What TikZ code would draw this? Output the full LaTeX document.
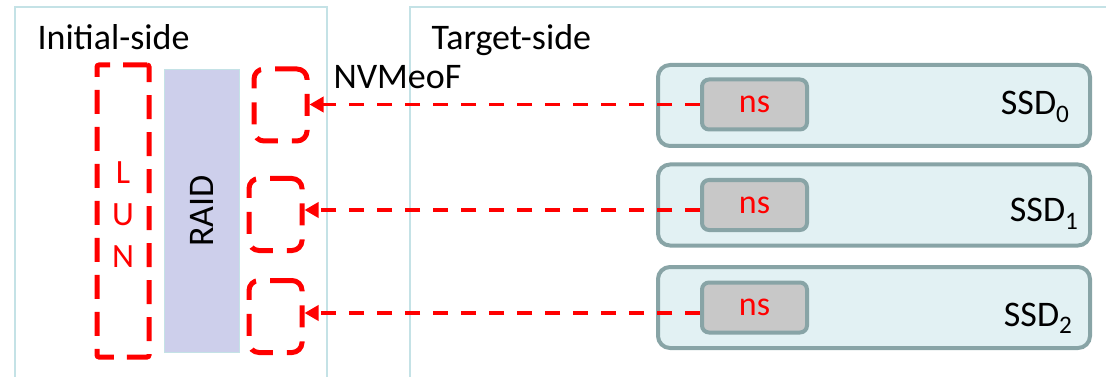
\documentclass[tikz,border=0pt]{standalone}
\usepackage{fontspec}
\setmainfont{Carlito}
\usetikzlibrary{arrows.meta}
\definecolor{frameblue}{RGB}{196,226,230}
\definecolor{raidfill}{RGB}{205,207,235}
\definecolor{ssdfill}{RGB}{226,241,243}
\definecolor{ssdline}{RGB}{136,164,166}
\definecolor{nsfill}{RGB}{200,200,200}
\definecolor{lunred}{RGB}{255,0,0}
\begin{document}
\begin{tikzpicture}[x=1pt,y=-1pt]
	\tikzset{frame/.style={draw=frameblue, line width=1.5pt}};
	\tikzset{bigtext/.style={font=\fontsize{36}{36}\selectfont}};
	\tikzset{lunbox/.style={draw=lunred, line width=5pt, dash pattern=on 24pt off 13pt, rounded corners=2pt, minimum width=52pt, minimum height=292pt, inner sep=0pt}};
	\tikzset{portbox/.style={draw=lunred, line width=5pt, dash pattern=on 22pt off 14pt, rounded corners=10pt, minimum width=53pt, minimum height=72pt, inner sep=0pt}};
	\tikzset{ssd/.style={draw=ssdline, fill=ssdfill, line width=4pt, rounded corners=12pt, minimum width=432pt, minimum height=81pt, inner sep=0pt}};
	\tikzset{ns/.style={draw=ssdline, fill=nsfill, line width=4pt, rounded corners=7pt, minimum width=105pt, minimum height=50pt, inner sep=0pt, text=lunred, font=\fontsize{34}{34}\selectfont}};
	\tikzset{link/.style={draw=lunred, line width=3.5pt, dash pattern=on 15pt off 13pt, -{Triangle[length=14pt,width=15pt]}}};
	\useasboundingbox (0,0) rectangle (1106,377);

	% frames
	\draw[frame] (15,380) -- (15,7) -- (327,7) -- (327,380);
	\draw[frame] (410,380) -- (410,7) -- (1110,7);
	\node[bigtext, anchor=base west] (init) at (34,50) {Initial-side};
	\node[bigtext, anchor=base west] (target) at (428,50) {Target-side};

	% initiator
	\node[lunbox] (lun) at (123,211) {};
	\node[text=lunred, align=center, font=\fontsize{34}{42}\selectfont] (luntxt) at (123,215) {L\\U\\N};
	\node[draw=frameblue, fill=raidfill, line width=1pt, minimum width=75pt, minimum height=282pt, inner sep=0pt] (raid) at (202,211) {};
	\node[bigtext, rotate=90] (raidtxt) at (raid.center) {RAID};
	\node[portbox] (port0) at (280.5,105) {};
	\node[portbox] (port1) at (275.5,214.5) {};
	\node[portbox] (port2) at (275.5,316.5) {};
	\node[bigtext, anchor=base west] (nvme) at (330,89) {NVMeoF};

	% target
	\node[ssd] (ssd0) at (874,105.5) {};
	\node[ssd] (ssd1) at (874,205) {};
	\node[ssd] (ssd2) at (874,307.5) {};
	\node[ns] (ns0) at (754.5,104.5) {ns};
	\node[ns] (ns1) at (754.5,205) {ns};
	\node[ns] (ns2) at (754.5,307.5) {ns};
	\node[bigtext, anchor=base east] (lab0) at (1073,115) {SSD\textsubscript{0}};
	\node[bigtext, anchor=base east] (lab1) at (1082,222) {SSD\textsubscript{1}};
	\node[bigtext, anchor=base east] (lab2) at (1076,326) {SSD\textsubscript{2}};

	\draw[link] (ns0.west) -- (port0.east |- ns0.west);
	\draw[link] (ns1.west |- 0,210) -- (port1.east |- 0,210);
	\draw[link] (ns2.west |- 0,313) -- (port2.east |- 0,313);
\end{tikzpicture}
\end{document}
